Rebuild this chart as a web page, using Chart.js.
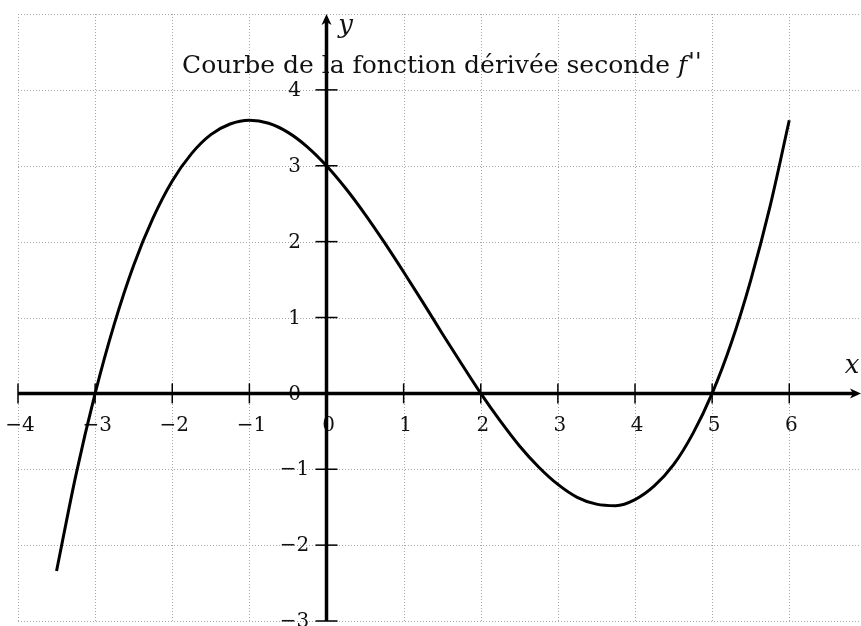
<!DOCTYPE html>
<html>
<head>
<meta charset="utf-8">
<title>Courbe de la fonction dérivée seconde</title>
<script src="https://cdn.jsdelivr.net/npm/chart.js"></script>
<style>
  html, body { margin: 0; padding: 0; background: #fff; }
</style>
</head>
<body>
<canvas id="courbe" width="861" height="626"></canvas>
<script>
const abscisses = [-3.5, -3.25, -3, -2.75, -2.5, -2.25, -2, -1.75, -1.5, -1.25, -1, -0.75, -0.5, -0.25,
  0, 0.25, 0.5, 0.75, 1, 1.25, 1.5, 1.75, 2, 2.25, 2.5, 2.75, 3, 3.25, 3.5, 3.75, 4, 4.25, 4.5, 4.75,
  5, 5.25, 5.5, 5.75, 6];
const ordonnees = [-2.34, -1.08, 0, 0.92, 1.69, 2.31, 2.8, 3.16, 3.41, 3.55, 3.6, 3.56, 3.44, 3.25,
  3, 2.7, 2.36, 1.99, 1.6, 1.2, 0.79, 0.39, 0, -0.36, -0.69, -0.97, -1.2, -1.37, -1.46, -1.48, -1.4, -1.22, -0.94, -0.53,
  0, 0.67, 1.49, 2.46, 3.6];

// graduations et quadrillage
const graduationsX = [-4, -3, -2, -1, 0, 1, 2, 3, 4, 5, 6];
const graduationsY = [-3, -2, -1, 0, 1, 2, 3, 4];
const grilleX = [-4, -3, -2, -1, 0, 1, 2, 3, 4, 5, 6];
const grilleY = [-3, -2, -1, 0, 1, 2, 3, 4, 5];

const titre = 'Courbe de la fonction dérivée seconde ';
const titreFonction = 'f';
const titrePrimes = "''";

const SERIF = '"DejaVu Serif", "Liberation Serif", serif';

function trait(ctx, x1, y1, x2, y2) {
  ctx.beginPath();
  ctx.moveTo(x1, y1);
  ctx.lineTo(x2, y2);
  ctx.stroke();
}

function signe(v) {
  return v < 0 ? '\u2212' + Math.abs(v) : String(v);
}

const repere = {
  id: 'repere',
  beforeDatasetsDraw(chart) {
    const { ctx, chartArea: a, scales: { x, y } } = chart;
    const x0 = x.getPixelForValue(0);
    const y0 = y.getPixelForValue(0);
    ctx.save();

    // quadrillage en pointillés
    ctx.strokeStyle = '#a6a6a6';
    ctx.lineWidth = 1;
    ctx.setLineDash([1, 2]);
    grilleX.forEach(v => {
      const px = Math.round(x.getPixelForValue(v)) + 0.5;
      trait(ctx, px, a.top, px, a.bottom);
    });
    grilleY.forEach(v => {
      const py = Math.round(y.getPixelForValue(v)) + 0.5;
      trait(ctx, a.left, py, a.right, py);
    });
    ctx.setLineDash([]);

    // titre (f suivi de deux primes)
    ctx.fillStyle = '#111';
    ctx.textBaseline = 'alphabetic';
    ctx.textAlign = 'left';
    ctx.font = '25px ' + SERIF;
    ctx.fillText(titre, 182, 73);
    let w = 182 + ctx.measureText(titre).width;
    ctx.font = 'italic 25px ' + SERIF;
    ctx.fillText(titreFonction, w, 73);
    w += ctx.measureText(titreFonction).width + 1;
    ctx.font = 'italic 24px ' + SERIF;
    ctx.fillText(titrePrimes, w, 70);

    // étiquettes des graduations
    ctx.font = '20px ' + SERIF;
    ctx.textAlign = 'center';
    ctx.textBaseline = 'middle';
    graduationsX.forEach(v => {
      ctx.fillText(signe(v), x.getPixelForValue(v) + 2, y0 + 32);
    });
    graduationsY.forEach(v => {
      ctx.fillText(signe(v), x0 - 32, y.getPixelForValue(v) + 1);
    });

    // noms des axes
    ctx.font = 'italic 26px ' + SERIF;
    ctx.fillText('x', 852, y0 - 27);
    ctx.fillText('y', x0 + 19, 26);

    // axes
    ctx.strokeStyle = '#000';
    ctx.lineWidth = 3.5;
    trait(ctx, x.getPixelForValue(-4), y0, a.right - 6, y0);
    trait(ctx, x0, y.getPixelForValue(-3), x0, a.top + 6);

    // flèches
    ctx.fillStyle = '#000';
    ctx.beginPath();
    ctx.moveTo(a.right, y0);
    ctx.lineTo(a.right - 11, y0 - 5);
    ctx.lineTo(a.right - 8, y0);
    ctx.lineTo(a.right - 11, y0 + 5);
    ctx.closePath();
    ctx.fill();
    ctx.beginPath();
    ctx.moveTo(x0, a.top);
    ctx.lineTo(x0 - 5, a.top + 11);
    ctx.lineTo(x0, a.top + 8);
    ctx.lineTo(x0 + 5, a.top + 11);
    ctx.closePath();
    ctx.fill();

    // petits traits de graduation
    ctx.lineWidth = 1.5;
    graduationsX.forEach(v => {
      const px = x.getPixelForValue(v);
      trait(ctx, px, y0 - 10, px, y0 + 10);
    });
    graduationsY.forEach(v => {
      const py = y.getPixelForValue(v);
      trait(ctx, x0 - 11, py, x0 + 11, py);
    });

    ctx.restore();
  }
};

const ctx = document.getElementById('courbe').getContext('2d');
new Chart(ctx, {
  type: 'line',
  data: {
    datasets: [{
      data: abscisses.map((v, i) => ({ x: v, y: ordonnees[i] })),
      borderColor: '#000',
      borderWidth: 3,
      pointRadius: 0,
      cubicInterpolationMode: 'monotone',
      fill: false
    }]
  },
  options: {
    responsive: false,
    animation: false,
    devicePixelRatio: 1,
    layout: { padding: { left: 18, right: 0, top: 14, bottom: 5 } },
    plugins: { legend: { display: false }, tooltip: { enabled: false } },
    scales: {
      x: { type: 'linear', display: false, min: -4, max: 6.93 },
      y: { type: 'linear', display: false, min: -3, max: 5 }
    }
  },
  plugins: [repere]
});
</script>
</body>
</html>
